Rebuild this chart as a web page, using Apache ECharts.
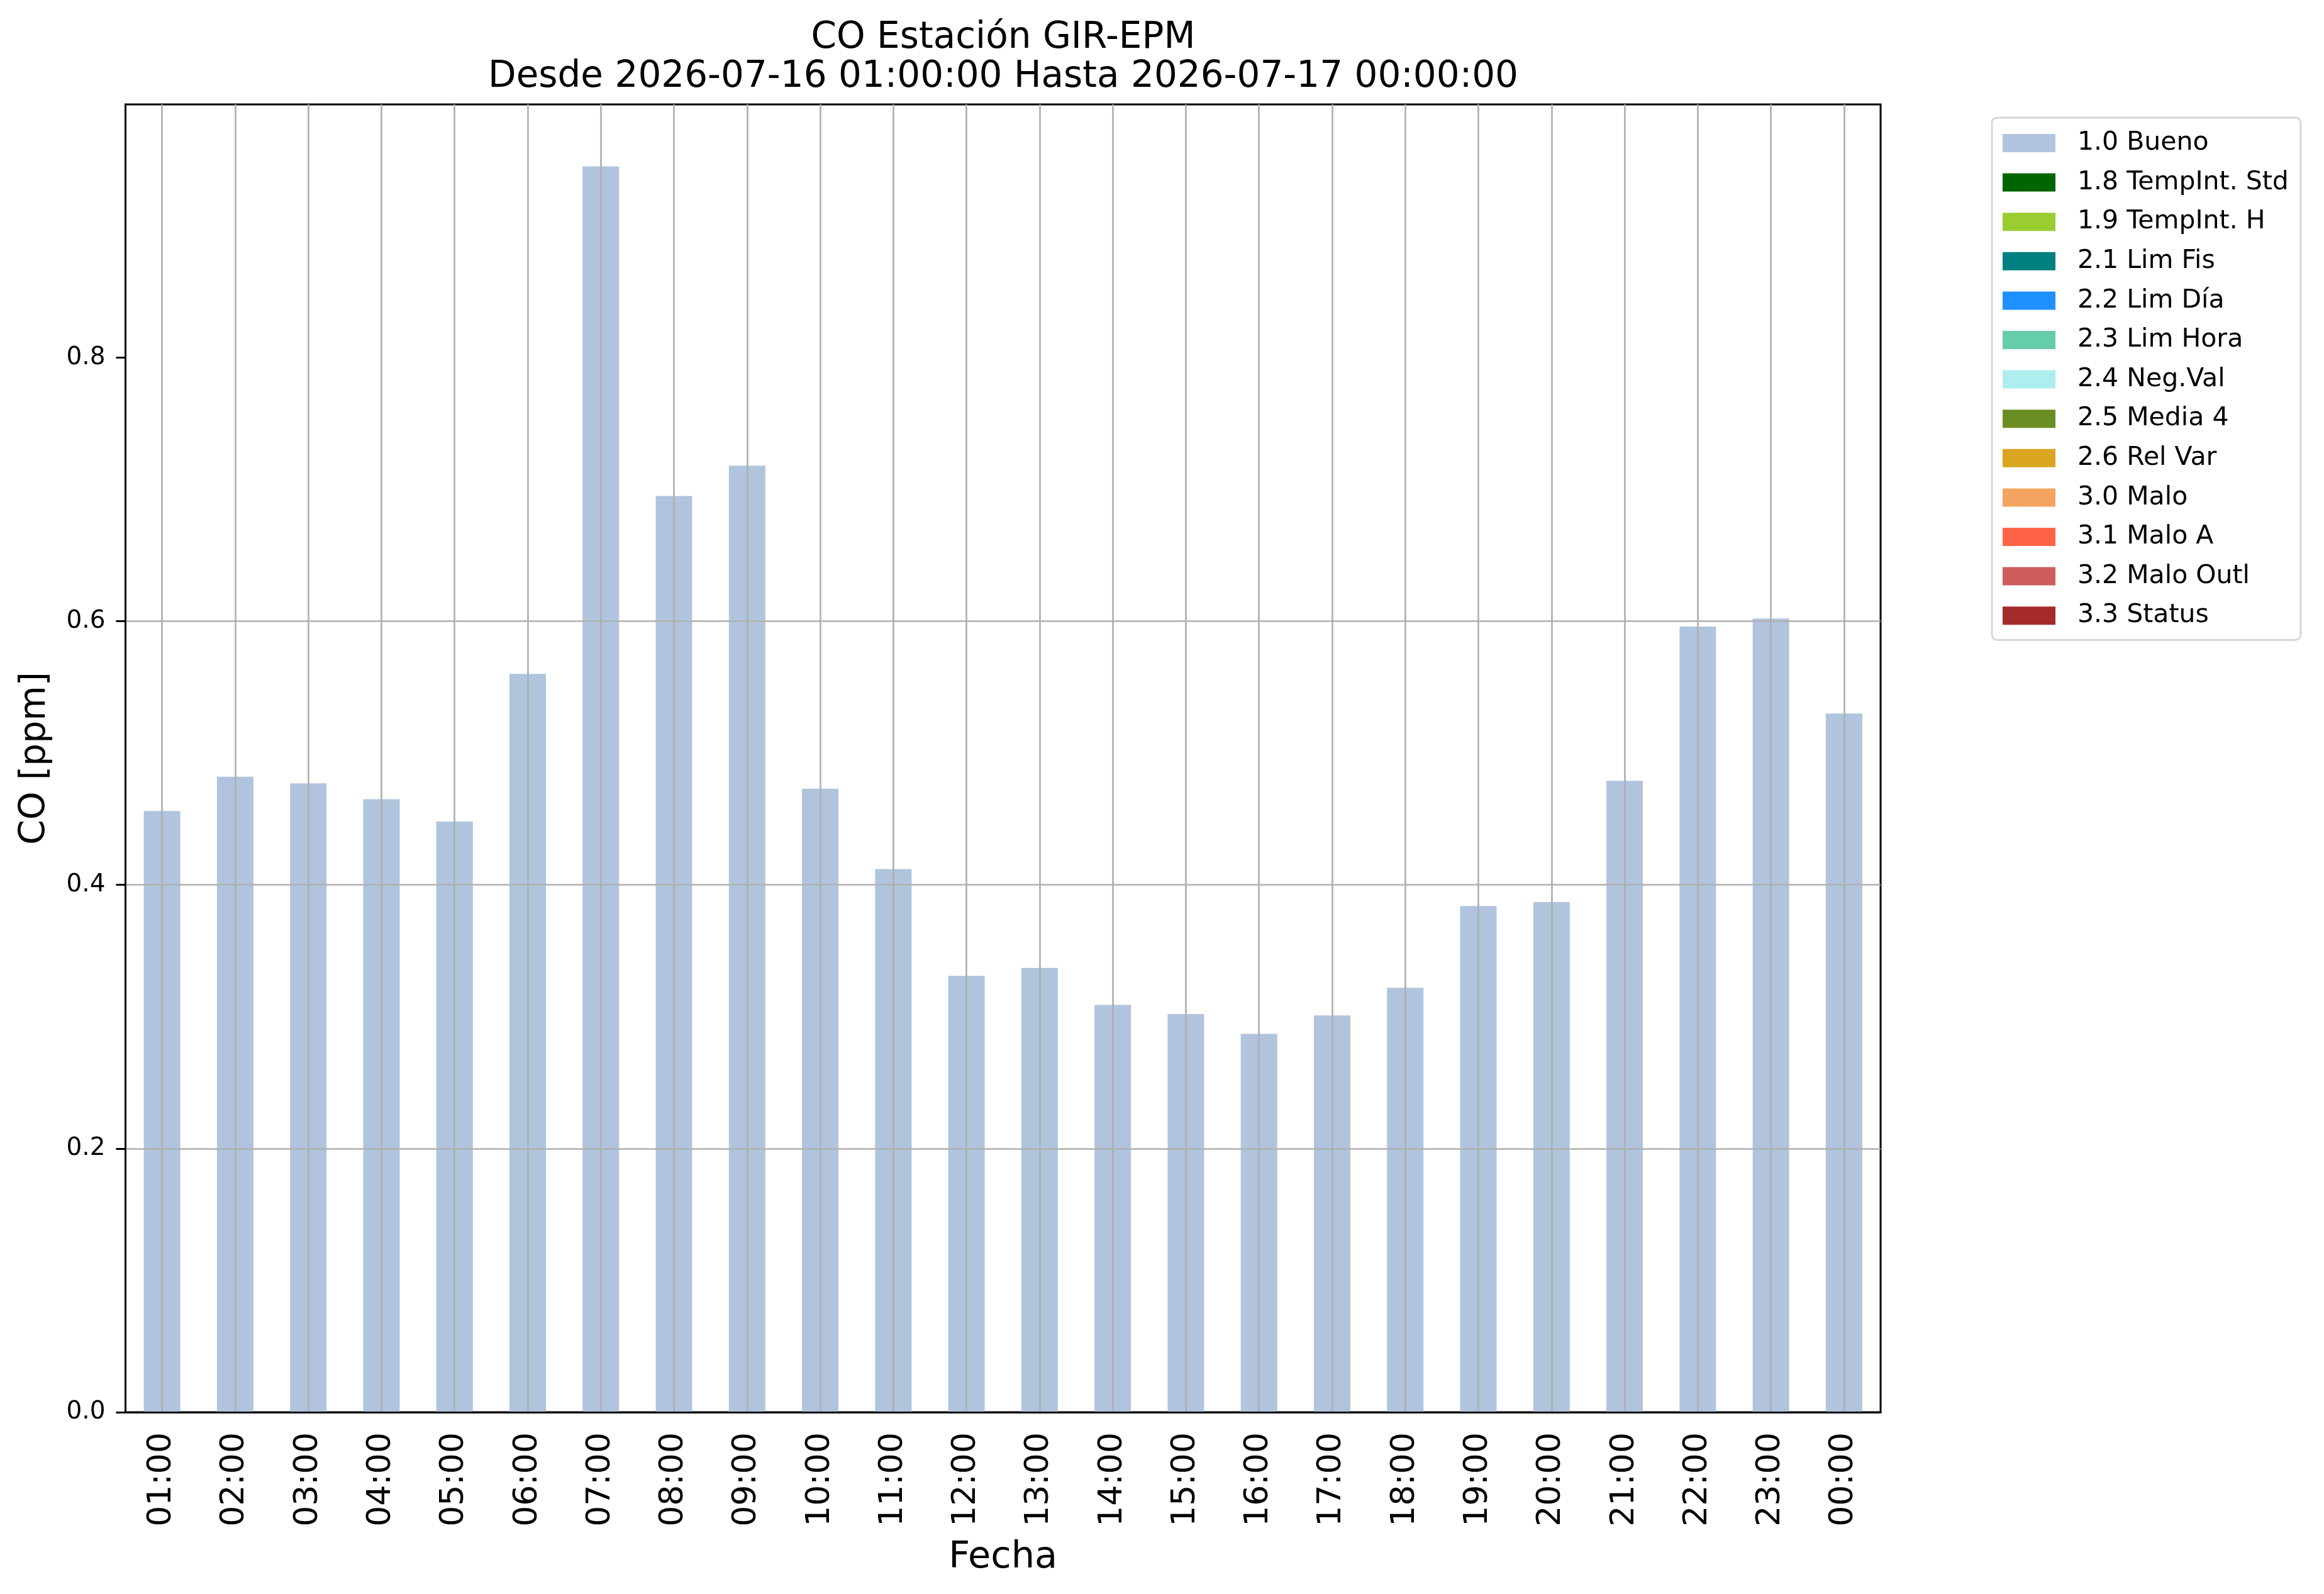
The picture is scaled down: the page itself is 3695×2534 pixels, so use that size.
<!DOCTYPE html>
<html>
<head>
<meta charset="utf-8">
<script src="https://cdn.jsdelivr.net/npm/echarts@6/dist/echarts.min.js"></script>
<style>
html, body { margin: 0; padding: 0; background: #fff; }
#container { width: 3695px; height: 2534px; }
</style>
</head>
<body>
<div id="container"></div>
<script>
var horas = ['01:00', '02:00', '03:00', '04:00', '05:00', '06:00', '07:00', '08:00',
    '09:00', '10:00', '11:00', '12:00', '13:00', '14:00', '15:00', '16:00',
    '17:00', '18:00', '19:00', '20:00', '21:00', '22:00', '23:00', '00:00'];
var bueno = [0.456, 0.482, 0.477, 0.465, 0.448, 0.560, 0.945, 0.695,
    0.718, 0.473, 0.412, 0.331, 0.337, 0.309, 0.302, 0.287,
    0.301, 0.322, 0.384, 0.387, 0.479, 0.596, 0.602, 0.530];
var banderas = ['1.0 Bueno', '1.8 TempInt. Std', '1.9 TempInt. H', '2.1 Lim Fis', '2.2 Lim Día',
    '2.3 Lim Hora', '2.4 Neg.Val', '2.5 Media 4', '2.6 Rel Var', '3.0 Malo',
    '3.1 Malo A', '3.2 Malo Outl', '3.3 Status'];
var colores = ['#b0c4de', '#006400', '#9acd32', '#008080', '#1e90ff',
    '#66cdaa', '#afeeee', '#6b8e23', '#daa520', '#f4a460',
    '#ff6347', '#cd5c5c', '#a52a2a'];
var yTicks = [0, 0.2, 0.4, 0.6, 0.8];

var fuente = 'DejaVu Sans';

function showCO() {
    var myChart = echarts.init(document.getElementById('container'));
    var series = banderas.map(function(name, i) {
        return {
            name: name,
            type: 'bar',
            stack: 'flag',
            barWidth: 58,
            itemStyle: { color: colores[i] },
            data: i === 0 ? bueno : []
        };
    });
    myChart.setOption({
        animation: false,
        textStyle: { fontFamily: fuente },
        title: {
            text: 'CO Estación GIR-EPM\nDesde 2026-07-16 01:00:00 Hasta 2026-07-17 00:00:00',
            left: 1595,
            top: 30,
            padding: 0,
            textAlign: 'center',
            textStyle: {
                fontFamily: fuente,
                fontSize: 58,
                fontWeight: 'normal',
                lineHeight: 62,
                color: '#000'
            }
        },
        legend: {
            orient: 'vertical',
            left: 3167,
            top: 187,
            padding: [20, 19, 18, 17],
            itemWidth: 84,
            itemHeight: 29,
            itemGap: 21.6,
            icon: 'rect',
            selectedMode: false,
            borderColor: '#d6d6d6',
            borderWidth: 3,
            borderRadius: 8,
            backgroundColor: '#fff',
            textStyle: {
                fontFamily: fuente,
                fontSize: 41,
                lineHeight: 29,
                color: '#000',
                padding: [0, 0, 0, 30]
            },
            data: banderas
        },
        grid: {
            left: 199.5,
            right: 705,
            top: 166,
            bottom: 2534 - 2245,
            show: true,
            borderColor: '#000',
            borderWidth: 3,
            containLabel: false
        },
        xAxis: {
            type: 'category',
            data: horas,
            z: 5,
            name: 'Fecha',
            nameLocation: 'middle',
            nameGap: 202,
            nameTextStyle: { fontFamily: fuente, fontSize: 59, lineHeight: 59, color: '#000' },
            axisLine: { lineStyle: { color: '#000', width: 3 } },
            axisTick: { alignWithLabel: true, length: 15, lineStyle: { color: '#000', width: 3 } },
            axisLabel: {
                rotate: 90,
                margin: 32,
                fontFamily: fuente,
                fontSize: 52,
                color: '#000'
            },
            splitLine: {
                show: true,
                alignWithLabel: true,
                lineStyle: { color: '#b0b0b0', width: 2.7 }
            }
        },
        yAxis: {
            type: 'value',
            min: 0,
            max: 0.992,
            interval: 0.2,
            z: 5,
            name: 'CO [ppm]',
            nameLocation: 'middle',
            nameGap: 115,
            nameTextStyle: { fontFamily: fuente, fontSize: 57, lineHeight: 57, color: '#000' },
            axisLine: { show: true, lineStyle: { color: '#000', width: 3 } },
            axisTick: { show: true, length: 15, lineStyle: { color: '#000', width: 3 }, customValues: yTicks },
            axisLabel: {
                margin: 32,
                fontFamily: fuente,
                fontSize: 39,
                color: '#000',
                customValues: yTicks,
                formatter: function(v) { return v.toFixed(1); }
            },
            splitLine: {
                show: true,
                showMinLine: false,
                showMaxLine: false,
                lineStyle: { color: '#b0b0b0', width: 2.7 }
            }
        },
        series: series
    });
    return myChart;
}

showCO();
</script>
</body>
</html>
